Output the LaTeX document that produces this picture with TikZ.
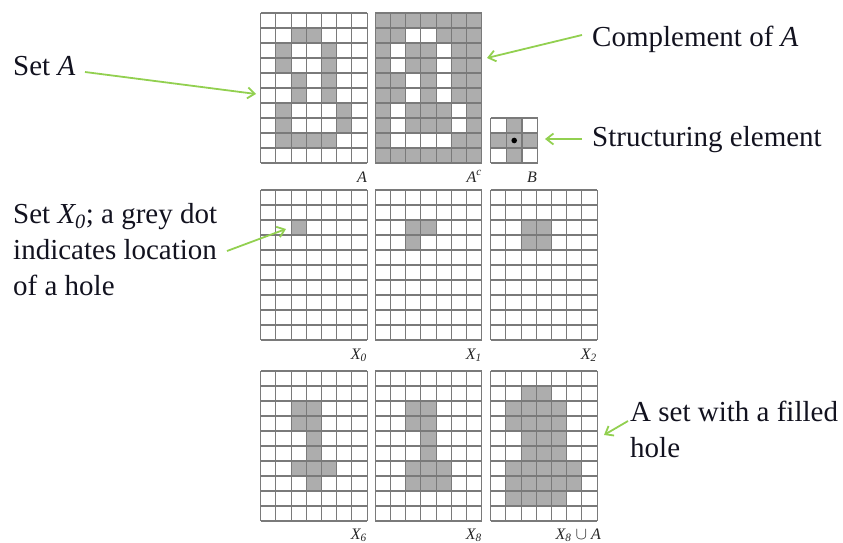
\documentclass[tikz,border=0pt]{standalone}
\usepackage{fontspec}
\setmainfont{Liberation Serif}
\usetikzlibrary{arrows.meta}
\definecolor{txt}{HTML}{12121F}
\definecolor{arr}{HTML}{92D050}
\definecolor{cellfill}{HTML}{ADADAD}
\definecolor{gline}{HTML}{7A7A7A}
\newcommand\mygrid[5]{% name, x, y, fill colour, cells
  \begin{scope}[shift={(#2,#3)}]
    \foreach \c/\r in {#5} \fill[#4] (\c*15.2,\r*15) rectangle ++(15.2,15);
    \foreach \i in {0,...,7} \draw[gridline] (\i*15.2,0) -- (\i*15.2,150);
    \foreach \j in {0,...,10} \draw[gridline] (0,\j*15) -- (106.4,\j*15);
    \node[gridbox, name=#1] at (0,0) {};
  \end{scope}}
\tikzset{
  gridline/.style={gline, line width=1.1pt},
  gridbox/.style={inner sep=0, minimum width=106.4pt, minimum height=150pt, anchor=north west},
  biglabel/.style={font=\fontsize{29}{36}\selectfont, text=txt, inner sep=0, align=left},
  gridlabel/.style={font=\fontsize{16}{18}\selectfont\itshape, text=black!85, inner sep=0, anchor=base east},
  greenarrow/.style={arr, line width=1.8pt, -{Straight Barb[length=7pt,width=11pt,line width=1.8pt]}}
}
\begin{document}
\begin{tikzpicture}[x=1pt, y=-1pt]
\useasboundingbox (0,0) rectangle (843,543);
% row 1
\mygrid{gA}{260.7}{13}{cellfill}{2/1,3/1,1/2,4/2,1/3,4/3,2/4,4/4,2/5,4/5,1/6,5/6,1/7,5/7,1/8,2/8,3/8,4/8}
\fill[cellfill] (375.3,13) rectangle ++(106.4,150);
\mygrid{gAc}{375.3}{13}{white}{2/1,3/1,1/2,4/2,1/3,4/3,2/4,4/4,2/5,4/5,1/6,5/6,1/7,5/7,1/8,2/8,3/8,4/8}
\begin{scope}[shift={(490.7,118)}]
  \foreach \c/\r in {1/0,0/1,1/1,2/1,1/2} \fill[cellfill] (\c*15.67,\r*15) rectangle ++(15.67,15);
  \foreach \i in {0,...,3} \draw[gridline] (\i*15.67,0) -- (\i*15.67,45);
  \foreach \j in {0,...,3} \draw[gridline] (0,\j*15) -- (47,\j*15);
  \node[inner sep=0, minimum width=47pt, minimum height=45pt, anchor=north west, name=gB] at (0,0) {};
  \fill[black] (23.5,22.5) circle (2.8);
\end{scope}
% row 2
\mygrid{gX0}{260.7}{190}{cellfill}{2/2}
\mygrid{gX1}{375.3}{190}{cellfill}{2/2,3/2,2/3}
\mygrid{gX2}{490.7}{190}{cellfill}{2/2,3/2,2/3,3/3}
% row 3
\mygrid{gX6}{260.7}{371}{cellfill}{2/2,3/2,2/3,3/3,3/4,3/5,2/6,3/6,4/6,3/7}
\mygrid{gX8}{375.3}{371}{cellfill}{2/2,3/2,2/3,3/3,3/4,3/5,2/6,3/6,4/6,2/7,3/7,4/7}
\mygrid{gXA}{490.7}{371}{cellfill}{2/1,3/1,1/2,2/2,3/2,4/2,1/3,2/3,3/3,4/3,2/4,3/4,4/4,2/5,3/5,4/5,1/6,2/6,3/6,4/6,5/6,1/7,2/7,3/7,4/7,5/7,1/8,2/8,3/8,4/8}
% grid labels
\node[gridlabel] (lA) at (367,182) {A};
\node[gridlabel] (lAc) at (482,182) {A\textsuperscript{c}};
\node[gridlabel] (lB) at (537,182) {B};
\node[gridlabel] (lX0) at (367,359) {X\textsubscript{0}};
\node[gridlabel] (lX1) at (482,359) {X\textsubscript{1}};
\node[gridlabel] (lX2) at (597,359) {X\textsubscript{2}};
\node[gridlabel] (lX6) at (367,539) {X\textsubscript{6}};
\node[gridlabel] (lX8) at (482,539) {X\textsubscript{8}};
\node[gridlabel] (lXA) at (601,539) {X\textsubscript{8} $\cup$ A};
% big labels
\node[biglabel, anchor=base west] (tA) at (13,75) {Set \textit{A}};
\node[biglabel, anchor=base west] (tAc) at (592,47) {Complement of \textit{A}};
\node[biglabel, anchor=base west] (tB) at (592,146) {Structuring element};
\node[biglabel, anchor=north west] (tX0) at (13,203) {Set \textit{X\textsubscript{0}}; a grey dot\\indicates location\\of a hole};
\node[biglabel, anchor=north west] (tXA) at (630,401) {A set with a filled\\hole};
% arrows
\coordinate (sA) at (85,72);   \coordinate (eA) at (256,94);
\coordinate (sAc) at (582,35); \coordinate (eAc) at (487,58);
\coordinate (sB) at (582,139); \coordinate (eB) at (545,139);
\coordinate (sX0) at (227,251); \coordinate (eX0) at (286,229);
\coordinate (sXA) at (628,421); \coordinate (eXA) at (604,435);
\draw[greenarrow] (sA) -- (eA);
\draw[greenarrow] (sAc) -- (eAc);
\draw[greenarrow] (sB) -- (eB);
\draw[greenarrow] (sX0) -- (eX0);
\draw[greenarrow] (sXA) -- (eXA);
\end{tikzpicture}
\end{document}
